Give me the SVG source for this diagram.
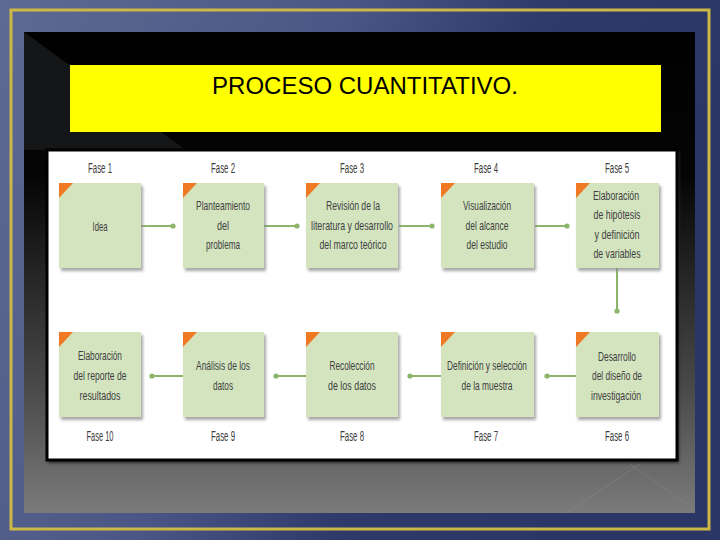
<svg xmlns="http://www.w3.org/2000/svg" width="720" height="540" viewBox="0 0 720 540">
<defs>
<linearGradient id="bg" x1="0" y1="0" x2="1" y2="0.3">
<stop offset="0" stop-color="#5f6a92"/>
<stop offset="0.45" stop-color="#4a5685"/>
<stop offset="0.7" stop-color="#2e3b6a"/>
<stop offset="1" stop-color="#2a3766"/>
</linearGradient>
<linearGradient id="panel" x1="0" y1="0" x2="0" y2="1">
<stop offset="0" stop-color="#000"/>
<stop offset="0.3" stop-color="#050505"/>
<stop offset="0.75" stop-color="#4a4b4a"/>
<stop offset="1" stop-color="#7a7b7a"/>
</linearGradient>
<filter id="sh" x="-10%" y="-10%" width="130%" height="130%">
<feGaussianBlur stdDeviation="1.6"/>
</filter>
<style>
.box{fill:#d4e4bf}
.bsh{fill:#8a8a8a;opacity:0.75;filter:url(#sh)}
.tri{fill:#f07a23}
.t{font-family:"Liberation Sans",Arial,sans-serif;font-size:13px;fill:#3f3f3f;text-anchor:middle}
.f{font-family:"Liberation Sans",Arial,sans-serif;font-size:14px;fill:#3c3c3c;text-anchor:middle}
.c{stroke:#8db56a;stroke-width:2;fill:none}
.d{fill:#8db56a}
</style>
</defs>
<rect width="720" height="540" fill="url(#bg)"/>
<rect x="11" y="10" width="698" height="519" fill="none" stroke="#cdb846" stroke-width="3"/>
<rect x="24" y="32" width="671" height="481" fill="url(#panel)"/>
<polygon points="24,32 186,150 24,150" fill="#141618"/>
<line x1="566" y1="513" x2="643" y2="462" stroke="#8a8a8a" stroke-width="1" opacity="0.5"/>
<line x1="627" y1="462" x2="695" y2="510" stroke="#8a8a8a" stroke-width="1" opacity="0.4"/>
<rect x="70" y="65" width="591" height="67" fill="#ffff00"/>
<text x="365" y="94" font-family="Liberation Sans,Arial,sans-serif" font-size="24" fill="#000" text-anchor="middle">PROCESO CUANTITATIVO.</text>
<rect x="48" y="151" width="631" height="312" fill="#2a2a2a" filter="url(#sh)"/>
<rect x="47" y="150" width="630" height="310" fill="#fff" stroke="#000" stroke-width="3"/>

<g id="connectors">
<line class="c" x1="141" y1="226" x2="173" y2="226"/><circle class="d" cx="173" cy="226" r="2.6"/>
<line class="c" x1="264" y1="226" x2="297" y2="226"/><circle class="d" cx="297" cy="226" r="2.6"/>
<line class="c" x1="399" y1="226" x2="432" y2="226"/><circle class="d" cx="432" cy="226" r="2.6"/>
<line class="c" x1="535" y1="226" x2="567" y2="226"/><circle class="d" cx="567" cy="226" r="2.6"/>
<line class="c" x1="617" y1="268" x2="617" y2="311"/><circle class="d" cx="617" cy="311" r="2.6"/>
<line class="c" x1="577" y1="376" x2="547" y2="376"/><circle class="d" cx="547" cy="376" r="2.6"/>
<line class="c" x1="441" y1="376" x2="410" y2="376"/><circle class="d" cx="410" cy="376" r="2.6"/>
<line class="c" x1="306" y1="376" x2="276" y2="376"/><circle class="d" cx="276" cy="376" r="2.6"/>
<line class="c" x1="183" y1="376" x2="152" y2="376"/><circle class="d" cx="152" cy="376" r="2.6"/>
</g>

<g id="fase1">
<text class="f" x="100" y="173" textLength="24" lengthAdjust="spacingAndGlyphs">Fase 1</text>
<rect class="bsh" x="61" y="186" width="82" height="85"/>
<rect class="box" x="59" y="183" width="82" height="85"/>
<polygon class="tri" points="59,183 73,183 59,198"/>
<text class="t" x="100" y="231" textLength="15" lengthAdjust="spacingAndGlyphs">Idea</text>
</g>
<g id="fase2">
<text class="f" x="223" y="173" textLength="24" lengthAdjust="spacingAndGlyphs">Fase 2</text>
<rect class="bsh" x="185" y="186" width="81" height="85"/>
<rect class="box" x="183" y="183" width="81" height="85"/>
<polygon class="tri" points="183,183 197,183 183,198"/>
<text class="t" x="223" y="210" textLength="54" lengthAdjust="spacingAndGlyphs">Planteamiento</text>
<text class="t" x="223" y="230" textLength="12" lengthAdjust="spacingAndGlyphs">del</text>
<text class="t" x="223" y="249" textLength="34" lengthAdjust="spacingAndGlyphs">problema</text>
</g>
<g id="fase3">
<text class="f" x="352" y="173" textLength="24" lengthAdjust="spacingAndGlyphs">Fase 3</text>
<rect class="bsh" x="308" y="186" width="92" height="85"/>
<rect class="box" x="306" y="183" width="92" height="85"/>
<polygon class="tri" points="306,183 320,183 306,198"/>
<text class="t" x="353" y="210" textLength="54" lengthAdjust="spacingAndGlyphs">Revisión de la</text>
<text class="t" x="352" y="230" textLength="82" lengthAdjust="spacingAndGlyphs">literatura y desarrollo</text>
<text class="t" x="353" y="249" textLength="67" lengthAdjust="spacingAndGlyphs">del marco teórico</text>
</g>
<g id="fase4">
<text class="f" x="486" y="173" textLength="24" lengthAdjust="spacingAndGlyphs">Fase 4</text>
<rect class="bsh" x="443" y="186" width="93" height="85"/>
<rect class="box" x="441" y="183" width="93" height="85"/>
<polygon class="tri" points="441,183 455,183 441,198"/>
<text class="t" x="487" y="210" textLength="48" lengthAdjust="spacingAndGlyphs">Visualización</text>
<text class="t" x="487" y="230" textLength="43" lengthAdjust="spacingAndGlyphs">del alcance</text>
<text class="t" x="487" y="249" textLength="41" lengthAdjust="spacingAndGlyphs">del estudio</text>
</g>
<g id="fase5">
<text class="f" x="617" y="173" textLength="24" lengthAdjust="spacingAndGlyphs">Fase 5</text>
<rect class="bsh" x="578" y="186" width="83" height="85"/>
<rect class="box" x="576" y="183" width="83" height="85"/>
<polygon class="tri" points="576,183 590,183 576,198"/>
<text class="t" x="616" y="200" textLength="46" lengthAdjust="spacingAndGlyphs">Elaboración</text>
<text class="t" x="617" y="219" textLength="47" lengthAdjust="spacingAndGlyphs">de hipótesis</text>
<text class="t" x="617" y="239" textLength="45" lengthAdjust="spacingAndGlyphs">y definición</text>
<text class="t" x="617" y="258" textLength="47" lengthAdjust="spacingAndGlyphs">de variables</text>
</g>
<g id="fase6">
<text class="f" x="617" y="441" textLength="24" lengthAdjust="spacingAndGlyphs">Fase 6</text>
<rect class="bsh" x="578" y="335" width="83" height="85"/>
<rect class="box" x="576" y="332" width="83" height="85"/>
<polygon class="tri" points="576,332 590,332 576,347"/>
<text class="t" x="617" y="361" textLength="38" lengthAdjust="spacingAndGlyphs">Desarrollo</text>
<text class="t" x="617" y="380" textLength="50" lengthAdjust="spacingAndGlyphs">del diseño de</text>
<text class="t" x="616" y="400" textLength="50" lengthAdjust="spacingAndGlyphs">investigación</text>
</g>
<g id="fase7">
<text class="f" x="486" y="441" textLength="24" lengthAdjust="spacingAndGlyphs">Fase 7</text>
<rect class="bsh" x="443" y="335" width="93" height="85"/>
<rect class="box" x="441" y="332" width="93" height="85"/>
<polygon class="tri" points="441,332 455,332 441,347"/>
<text class="t" x="487" y="370" textLength="80" lengthAdjust="spacingAndGlyphs">Definición y selección</text>
<text class="t" x="487" y="390" textLength="51" lengthAdjust="spacingAndGlyphs">de la muestra</text>
</g>
<g id="fase8">
<text class="f" x="352" y="441" textLength="24" lengthAdjust="spacingAndGlyphs">Fase 8</text>
<rect class="bsh" x="308" y="335" width="92" height="85"/>
<rect class="box" x="306" y="332" width="92" height="85"/>
<polygon class="tri" points="306,332 320,332 306,347"/>
<text class="t" x="352" y="370" textLength="45" lengthAdjust="spacingAndGlyphs">Recolección</text>
<text class="t" x="352" y="390" textLength="48" lengthAdjust="spacingAndGlyphs">de los datos</text>
</g>
<g id="fase9">
<text class="f" x="223" y="441" textLength="24" lengthAdjust="spacingAndGlyphs">Fase 9</text>
<rect class="bsh" x="185" y="335" width="81" height="85"/>
<rect class="box" x="183" y="332" width="81" height="85"/>
<polygon class="tri" points="183,332 197,332 183,347"/>
<text class="t" x="223" y="370" textLength="54" lengthAdjust="spacingAndGlyphs">Análisis de los</text>
<text class="t" x="223" y="390" textLength="20" lengthAdjust="spacingAndGlyphs">datos</text>
</g>
<g id="fase10">
<text class="f" x="100" y="441" textLength="27" lengthAdjust="spacingAndGlyphs">Fase 10</text>
<rect class="bsh" x="61" y="335" width="82" height="85"/>
<rect class="box" x="59" y="332" width="82" height="85"/>
<polygon class="tri" points="59,332 73,332 59,347"/>
<text class="t" x="100" y="360" textLength="44" lengthAdjust="spacingAndGlyphs">Elaboración</text>
<text class="t" x="100" y="380" textLength="53" lengthAdjust="spacingAndGlyphs">del reporte de</text>
<text class="t" x="100" y="400" textLength="41" lengthAdjust="spacingAndGlyphs">resultados</text>
</g>
</svg>
